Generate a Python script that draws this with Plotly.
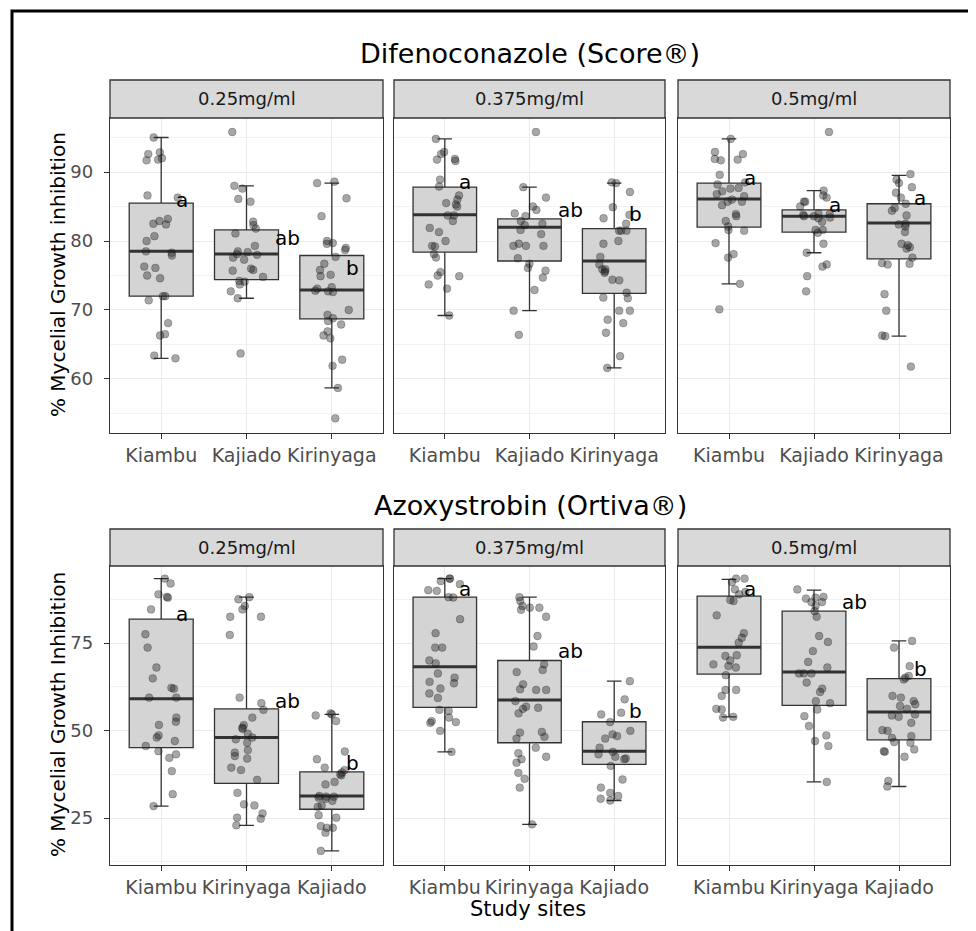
import numpy as np
import plotly.graph_objects as go

# ---------------- data ----------------
TITLES = ["Difenoconazole (Score®)", "Azoxystrobin (Ortiva®)"]
DOSES = ["0.25mg/ml", "0.375mg/ml", "0.5mg/ml"]
SITES_TOP = ["Kiambu", "Kajiado", "Kirinyaga"]
SITES_BOTTOM = ["Kiambu", "Kirinyaga", "Kajiado"]
Y_TITLES = ["% Mycelial Growth inhibition", "% Mycelial Growth Inhibition"]
X_TITLE = "Study sites"

# Difenoconazole observations
DIF_025_KIAMBU = [95.0, 92.85, 92.6, 92.0, 91.8, 91.7, 86.6, 86.3, 83.2, 82.9, 82.4, 82.5, 80.7, 80.0, 78.5,
                  78.3, 77.9, 76.3, 76.1, 75.0, 74.6, 72.0, 72.0, 71.4, 68.1, 66.5, 66.3, 63.4, 63.0]
DIF_025_KAJIADO = [95.8, 88.0, 87.6, 86.1, 85.7, 82.8, 82.3, 81.8, 81.1, 79.3, 78.5, 78.4, 78.1, 78.0, 77.6,
                   77.3, 76.0, 75.8, 75.7, 74.8, 74.2, 74.1, 73.7, 72.7, 71.7, 63.7]
DIF_025_KIRINYAGA = [88.6, 88.4, 86.2, 83.6, 79.7, 79.6, 80.0, 79.0, 78.7, 77.7, 76.7, 75.8, 75.1, 74.9, 73.3,
                     73.1, 72.8, 72.6, 72.7, 70.0, 69.3, 68.8, 68.4, 67.9, 66.9, 66.3, 65.9, 62.8, 61.9, 58.7, 54.3]
DIF_0375_KIAMBU = [94.8, 92.9, 92.6, 91.9, 91.8, 91.6, 88.9, 87.9, 86.6, 86.0, 85.5, 85.3, 85.0, 83.7, 83.7,
                   82.9, 81.9, 81.3, 80.0, 79.3, 79.2, 78.1, 77.6, 75.5, 75.0, 74.9, 73.7, 73.1, 69.2]
DIF_0375_KAJIADO = [95.8, 87.8, 86.3, 85.0, 84.5, 84.0, 83.6, 82.9, 82.5, 82.3, 81.6, 81.0, 79.6, 79.3, 79.3,
                    79.3, 77.5, 76.7, 76.1, 75.7, 74.7, 72.9, 69.9, 66.4]
DIF_0375_KIRINYAGA = [88.4, 88.5, 87.1, 84.9, 83.8, 83.3, 82.5, 81.5, 81.5, 81.5, 80.0, 79.6, 77.7, 76.6, 75.9,
                      75.6, 75.9, 75.4, 74.4, 74.3, 72.5, 71.7, 71.8, 69.9, 69.9, 68.6, 68.1, 66.7, 63.3, 61.6]
DIF_05_KIAMBU = [94.8, 92.9, 92.6, 91.9, 91.8, 91.7, 89.6, 88.5, 88.2, 87.7, 87.6, 87.2, 86.8, 86.5, 86.0,
                 85.7, 85.7, 85.2, 83.9, 83.6, 82.9, 82.1, 81.6, 81.5, 79.7, 78.1, 77.6, 73.8, 70.1]
DIF_05_KAJIADO = [95.8, 87.3, 86.6, 86.3, 85.7, 85.7, 85.0, 84.0, 83.9, 83.8, 83.6, 83.6, 83.4, 83.3, 82.8,
                  81.6, 81.6, 81.2, 79.6, 78.3, 76.6, 76.3, 74.9, 72.7]
DIF_05_KIRINYAGA = [89.7, 88.9, 88.4, 87.8, 87.0, 86.3, 85.4, 84.8, 84.4, 83.7, 82.5, 82.4, 82.1, 81.3, 79.6,
                    79.1, 79.4, 78.9, 77.6, 76.8, 76.7, 76.6, 72.3, 69.9, 66.3, 66.2, 61.8]

# Azoxystrobin observations
AZO_025_KIAMBU = [93.4, 92.0, 88.9, 88.2, 87.95, 84.6, 77.5, 73.7, 68.0, 64.9, 62.2, 61.95, 59.4, 59.4, 53.7,
                  52.5, 51.6, 48.6, 48.0, 47.0, 45.6, 44.1, 43.2, 42.2, 38.4, 31.8, 28.4]
AZO_025_KIRINYAGA = [88.1, 87.5, 85.6, 84.6, 82.5, 82.5, 77.3, 59.4, 57.8, 55.9, 53.7, 51.5, 50.8, 50.5, 49.1,
                     48.0, 47.5, 46.5, 44.4, 43.7, 42.7, 42.0, 39.4, 38.7, 35.9, 32.2, 28.9, 28.6, 26.3, 24.8,
                     25.1, 22.9]
AZO_025_KAJIADO = [54.9, 54.6, 54.3, 52.7, 44.0, 41.8, 39.4, 37.5, 37.2, 38.0, 38.7, 35.3, 34.6, 31.3, 31.1,
                   31.1, 30.8, 30.5, 29.9, 28.6, 28.2, 25.8, 25.1, 22.7, 22.2, 22.2, 20.8, 15.6]
AZO_0375_KIAMBU = [93.4, 93.4, 92.7, 91.8, 90.1, 89.9, 88.1, 88.0, 81.8, 77.8, 73.7, 73.7, 70.0, 69.2, 66.3,
                   65.1, 63.9, 63.5, 62.0, 60.6, 59.3, 55.9, 55.6, 53.7, 52.7, 52.2, 52.4, 49.9, 43.9]
AZO_0375_KIRINYAGA = [88.1, 87.0, 85.6, 85.1, 84.5, 85.1, 82.5, 77.0, 74.0, 68.9, 67.3, 66.7, 63.2, 61.8, 61.6,
                      61.6, 58.4, 56.5, 56.2, 56.8, 54.9, 49.4, 49.6, 48.2, 47.7, 45.1, 43.5, 42.5, 41.8, 40.8,
                      37.9, 36.2, 33.7, 23.2]
AZO_0375_KAJIADO = [64.1, 58.9, 55.1, 54.6, 52.4, 49.9, 48.9, 48.4, 47.7, 45.1, 43.9, 43.2, 42.5, 42.0, 41.8,
                    39.9, 36.0, 33.7, 32.2, 31.3, 30.5, 30.0]
AZO_05_KIAMBU = [93.4, 93.4, 92.4, 90.3, 89.6, 88.9, 87.0, 87.3, 82.9, 77.8, 76.5, 75.1, 71.5, 71.3, 70.0,
                 68.9, 68.4, 68.0, 65.8, 61.6, 61.6, 59.9, 56.2, 56.0, 53.9, 53.7]
AZO_05_KIRINYAGA = [90.3, 87.95, 87.7, 88.2, 86.7, 86.7, 85.6, 84.1, 82.5, 77.0, 75.3, 72.7, 69.6, 68.0, 66.3,
                    66.3, 66.3, 63.7, 61.95, 61.0, 58.4, 57.8, 56.0, 54.1, 51.3, 48.6, 47.0, 45.6, 35.3]
AZO_05_KAJIADO = [75.6, 73.7, 68.4, 65.6, 65.1, 64.6, 59.9, 59.4, 58.4, 57.5, 57.0, 56.2, 54.6, 54.3, 53.9,
                  52.2, 50.1, 49.9, 48.4, 47.9, 46.7, 46.5, 44.6, 44.1, 43.9, 42.5, 35.6, 34.0]

# Box statistics as drawn (lower whisker, Q1, median, Q3, upper whisker), per panel in site order
DIF_LOWER = [[63.0, 71.7, 58.7], [69.2, 69.9, 61.6], [73.8, 78.3, 66.2]]
DIF_Q1 = [[72.0, 74.4, 68.7], [78.4, 77.1, 72.4], [82.0, 81.3, 77.4]]
DIF_MEDIAN = [[78.5, 78.1, 72.9], [83.8, 82.0, 77.1], [86.1, 83.6, 82.6]]
DIF_Q3 = [[85.5, 81.6, 77.9], [87.8, 83.2, 81.8], [88.4, 84.5, 85.4]]
DIF_UPPER = [[95.0, 88.0, 88.4], [94.8, 87.8, 88.4], [94.8, 87.3, 89.5]]

AZO_LOWER = [[28.4, 22.9, 15.6], [43.9, 23.2, 30.0], [53.9, 35.3, 34.0]]
AZO_Q1 = [[45.1, 34.9, 27.5], [56.6, 46.5, 40.3], [66.1, 57.2, 47.3]]
AZO_MEDIAN = [[59.1, 48.0, 31.3], [68.2, 58.7, 44.1], [73.8, 66.7, 55.3]]
AZO_Q3 = [[81.8, 56.2, 38.2], [88.1, 70.0, 52.5], [88.4, 84.1, 64.8]]
AZO_UPPER = [[93.4, 88.1, 54.6], [93.4, 88.1, 64.1], [93.2, 90.1, 75.6]]

# Significance letters and the height at which they are written
DIF_LETTERS = [["a", "ab", "b"], ["a", "ab", "b"], ["a", "a", "a"]]
DIF_LETTER_Y = [[86.0, 80.5, 76.1], [88.6, 84.5, 83.9], [89.1, 85.2, 86.3]]
AZO_LETTERS = [["a", "ab", "b"], ["a", "ab", "b"], ["a", "ab", "b"]]
AZO_LETTER_Y = [[83.4, 58.4, 40.8], [90.5, 72.7, 55.6], [90.3, 86.7, 67.5]]

# Axis ticks
DIF_TICKS = [60, 70, 80, 90]
DIF_MINOR = [55, 65, 75, 85, 95]
AZO_TICKS = [25, 50, 75]
AZO_MINOR = [12.5, 37.5, 62.5, 87.5]

DIF_POINTS = [[DIF_025_KIAMBU, DIF_025_KAJIADO, DIF_025_KIRINYAGA],
              [DIF_0375_KIAMBU, DIF_0375_KAJIADO, DIF_0375_KIRINYAGA],
              [DIF_05_KIAMBU, DIF_05_KAJIADO, DIF_05_KIRINYAGA]]
AZO_POINTS = [[AZO_025_KIAMBU, AZO_025_KIRINYAGA, AZO_025_KAJIADO],
              [AZO_0375_KIAMBU, AZO_0375_KIRINYAGA, AZO_0375_KAJIADO],
              [AZO_05_KIAMBU, AZO_05_KIRINYAGA, AZO_05_KAJIADO]]

# ---------------- layout geometry (window pixels) ----------------
OFF = 8                      # page body margin of the browser
WIN_W, WIN_H = 976, 931
W, H = WIN_W - OFF, WIN_H - OFF


def px(x):
    return (x - OFF) / W


def py(y):
    return 1 - (y - OFF) / H


PANEL_X = [(110, 383), (394, 665), (678, 950)]
# (plot top, plot bottom, strip top)
ROW_Y = [(118, 433, 80), (566, 865, 529)]
Y_RANGES = [(52.17, 97.83), (11.57, 97.0)]
TITLE_Y = [54, 505]
YTITLE_Y = [275, 715]
FONT = "DejaVu Sans"
BOX_W = 0.75
JITTER = 0.2

rows = [
    dict(points=DIF_POINTS, lower=DIF_LOWER, q1=DIF_Q1, med=DIF_MEDIAN, q3=DIF_Q3, upper=DIF_UPPER,
         letters=DIF_LETTERS, letter_y=DIF_LETTER_Y, sites=SITES_TOP, ticks=DIF_TICKS, minor=DIF_MINOR),
    dict(points=AZO_POINTS, lower=AZO_LOWER, q1=AZO_Q1, med=AZO_MEDIAN, q3=AZO_Q3, upper=AZO_UPPER,
         letters=AZO_LETTERS, letter_y=AZO_LETTER_Y, sites=SITES_BOTTOM, ticks=AZO_TICKS, minor=AZO_MINOR),
]

rng = np.random.default_rng(20)
fig = go.Figure()
layout = {}
shapes = []
annotations = []

for r, row in enumerate(rows):
    top, bot, strip = ROW_Y[r]
    for c in range(3):
        k = r * 3 + c
        sfx = "" if k == 0 else str(k + 1)
        xref, yref = "x" + sfx, "y" + sfx
        x0, x1 = PANEL_X[c]
        pos = [1, 2, 3]

        layout["xaxis" + sfx] = dict(
            domain=[px(x0), px(x1)], anchor=yref, range=[0.4, 3.6],
            tickmode="array", tickvals=pos, ticktext=row["sites"],
            showgrid=True, gridcolor="#EBEBEB", gridwidth=1, zeroline=False,
            showline=True, mirror=True, linecolor="#333333", linewidth=1.3,
            ticks="outside", ticklen=5, tickwidth=1.2, tickcolor="#333333",
            tickfont=dict(family=FONT, size=19, color="#4D4D4D"), fixedrange=True,
        )
        layout["yaxis" + sfx] = dict(
            domain=[py(bot), py(top)], anchor=xref, range=list(Y_RANGES[r]),
            tickmode="array", tickvals=row["ticks"],
            showticklabels=(c == 0), ticks="outside" if c == 0 else "",
            ticklen=5, tickwidth=1.2, tickcolor="#333333", ticklabelstandoff=7,
            tickfont=dict(family=FONT, size=18, color="#4D4D4D"),
            showgrid=True, gridcolor="#EBEBEB", gridwidth=1, zeroline=False,
            minor=dict(tickmode="array", tickvals=row["minor"], showgrid=True,
                       gridcolor="#F2F2F2", gridwidth=0.7, ticks=""),
            showline=True, mirror=True, linecolor="#333333", linewidth=1.3, fixedrange=True,
        )

        # boxes (precomputed statistics)
        fig.add_trace(go.Box(
            x=pos, q1=row["q1"][c], median=row["med"][c], q3=row["q3"][c],
            lowerfence=row["lower"][c], upperfence=row["upper"][c],
            width=BOX_W, whiskerwidth=0.23, boxpoints=False,
            fillcolor="#D4D4D4", line=dict(color="#333333", width=1.3),
            xaxis=xref, yaxis=yref, showlegend=False, hoverinfo="skip",
        ))
        # thicker median line
        mx, my = [], []
        for p, m in zip(pos, row["med"][c]):
            mx += [p - BOX_W / 2, p + BOX_W / 2, None]
            my += [m, m, None]
        fig.add_trace(go.Scatter(x=mx, y=my, mode="lines", line=dict(color="#333333", width=3),
                                 xaxis=xref, yaxis=yref, showlegend=False, hoverinfo="skip"))
        # jittered observations
        for p, vals in zip(pos, row["points"][c]):
            jx = p + rng.uniform(-JITTER, JITTER, len(vals))
            fig.add_trace(go.Scatter(
                x=jx, y=vals, mode="markers",
                marker=dict(size=7.8, color="rgba(35,35,35,0.40)",
                            line=dict(width=0.6, color="rgba(0,0,0,0.35)")),
                xaxis=xref, yaxis=yref, showlegend=False, hoverinfo="skip"))
        # letters
        for p, lab, ly in zip(pos, row["letters"][c], row["letter_y"][c]):
            annotations.append(dict(
                x=p, y=ly, xref=xref, yref=yref, text=lab, showarrow=False,
                xanchor="left", yanchor="middle", xshift=13.5 * len(lab) - 1,
                font=dict(family=FONT, size=20, color="#000000")))

        # strip
        shapes.append(dict(type="rect", xref="paper", yref="paper",
                           x0=px(x0), x1=px(x1), y0=py(top), y1=py(strip),
                           fillcolor="#D9D9D9", line=dict(color="#333333", width=1.3)))
        annotations.append(dict(
            x=px((x0 + x1) / 2), y=py((top + strip) / 2), xref="paper", yref="paper",
            text=DOSES[c], showarrow=False, xanchor="center", yanchor="middle",
            font=dict(family=FONT, size=18, color="#1A1A1A")))

    # row title and y-axis title
    annotations.append(dict(
        x=px((PANEL_X[0][0] + PANEL_X[2][1]) / 2), y=py(TITLE_Y[r]), xref="paper", yref="paper",
        text=TITLES[r], showarrow=False, xanchor="center", yanchor="middle",
        font=dict(family=FONT, size=27, color="#000000")))
    annotations.append(dict(
        x=px(58), y=py(YTITLE_Y[r]), xref="paper", yref="paper", textangle=-90,
        text=Y_TITLES[r], showarrow=False, xanchor="center", yanchor="middle",
        font=dict(family=FONT, size=20, color="#000000")))

annotations.append(dict(
    x=px(528), y=py(909), xref="paper", yref="paper", text=X_TITLE, showarrow=False,
    xanchor="center", yanchor="middle", font=dict(family=FONT, size=21, color="#000000")))

# outer black frame
shapes.append(dict(type="rect", xref="paper", yref="paper", x0=px(12), y0=py(11), x1=1.02, y1=-0.02,
                   line=dict(color="#000000", width=3), fillcolor="rgba(0,0,0,0)"))

fig.update_layout(
    width=W, height=H, margin=dict(l=0, r=0, t=0, b=0),
    paper_bgcolor="white", plot_bgcolor="white", showlegend=False,
    shapes=shapes, annotations=annotations, **layout,
)
fig.write_html("out.html", config={"displayModeBar": False})
